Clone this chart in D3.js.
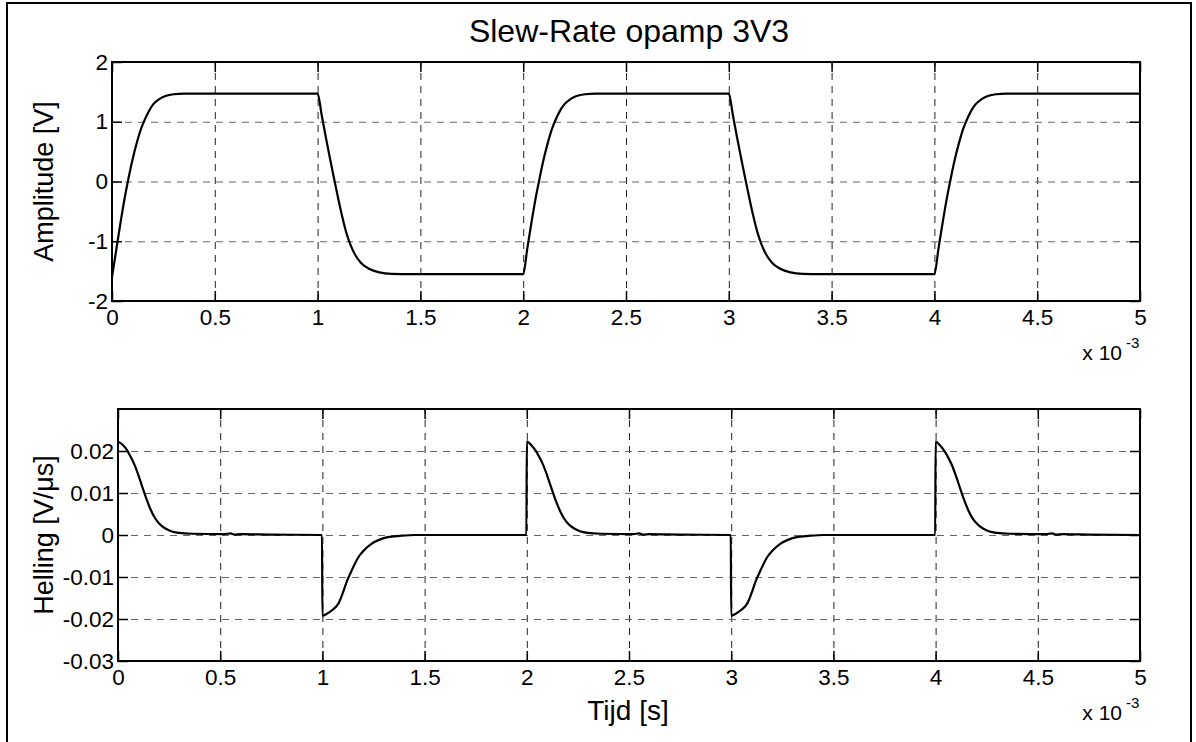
<!DOCTYPE html>
<html lang="nl">
<head>
<meta charset="UTF-8">
<title>Slew-Rate opamp 3V3</title>
<script src="https://d3js.org/d3.v7.min.js"></script>
<style>
  body { margin: 0; background: #fff; }
  svg { display: block; font-family: "Liberation Sans", Arial, Helvetica, sans-serif; }
  .grid path { display: none; }
  .grid line { stroke-dasharray: 7,6; stroke-width: 1; }
  .gridx line { stroke: #222; }
  .gridy line { stroke: #666; }
  .ax path { display: none; }
  .ax line { stroke: #000; stroke-width: 1.5; }
  .ax text { font-size: 22.5px; fill: #000; }
</style>
</head>
<body>
<div id="chart"></div>
<script>
// time axis is in units of 1e-3 s (MATLAB "x 10^-3" multiplier)
var timeTicks = [0, 0.5, 1, 1.5, 2, 2.5, 3, 3.5, 4, 4.5, 5];
var ampTicks = [-2, -1, 0, 1, 2];
var slopeTicks = [-0.03, -0.02, -0.01, 0, 0.01, 0.02];

// upper plot: amplitude [V] as [t, V]
var amplitude = [
    [0.00, -1.60], [0.02, -1.16], [0.04, -0.72], [0.06, -0.31], [0.08, 0.05], [0.10, 0.37],
    [0.12, 0.64], [0.14, 0.87], [0.16, 1.04], [0.18, 1.18], [0.20, 1.29], [0.23, 1.38],
    [0.26, 1.43], [0.30, 1.46], [0.35, 1.47],
    [1.00, 1.47], [1.02, 1.11], [1.04, 0.74], [1.06, 0.39], [1.08, 0.05], [1.10, -0.28],
    [1.12, -0.59], [1.14, -0.86], [1.16, -1.06], [1.18, -1.21], [1.21, -1.36], [1.25, -1.46],
    [1.30, -1.52], [1.36, -1.545], [1.45, -1.55],
    [2.00, -1.55], [2.02, -1.12], [2.04, -0.69], [2.06, -0.29], [2.08, 0.06], [2.10, 0.38],
    [2.12, 0.65], [2.14, 0.88], [2.16, 1.05], [2.18, 1.19], [2.20, 1.29], [2.23, 1.38],
    [2.26, 1.43], [2.30, 1.46], [2.35, 1.47],
    [3.00, 1.47], [3.02, 1.11], [3.04, 0.74], [3.06, 0.39], [3.08, 0.05], [3.10, -0.28],
    [3.12, -0.59], [3.14, -0.86], [3.16, -1.06], [3.18, -1.21], [3.21, -1.36], [3.25, -1.46],
    [3.30, -1.52], [3.36, -1.545], [3.45, -1.55],
    [4.00, -1.55], [4.02, -1.12], [4.04, -0.69], [4.06, -0.29], [4.08, 0.06], [4.10, 0.38],
    [4.12, 0.65], [4.14, 0.88], [4.16, 1.05], [4.18, 1.19], [4.20, 1.29], [4.23, 1.38],
    [4.26, 1.43], [4.30, 1.46], [4.35, 1.47],
    [5.00, 1.47]
];

// lower plot: slope [V/us] as [t, dV/dt]
var slope = [
    [0.00, 0.0223], [0.02, 0.0216], [0.04, 0.0205], [0.06, 0.0188], [0.08, 0.0168], [0.10, 0.0142],
    [0.12, 0.0113], [0.14, 0.0085], [0.16, 0.0060], [0.18, 0.0041], [0.20, 0.0028], [0.23, 0.0016],
    [0.26, 0.0009], [0.30, 0.0005], [0.36, 0.0003], [0.52, 0.0002], [0.55, 0.0004], [0.57, 0.0001],
    [0.60, 0.0002], [0.75, 0.0001], [0.998, 0.0000],
    [1.000, -0.0192], [1.02, -0.0188], [1.05, -0.0178], [1.08, -0.0162], [1.10, -0.0138], [1.12, -0.0110],
    [1.14, -0.0088], [1.16, -0.0067], [1.18, -0.0050], [1.20, -0.0038], [1.24, -0.0021], [1.28, -0.0011],
    [1.32, -0.0005], [1.38, -0.0002], [1.45, 0.0000], [1.998, 0.0000],
    [2.000, 0.0223], [2.02, 0.0215], [2.04, 0.0203], [2.06, 0.0187], [2.08, 0.0167], [2.10, 0.0141],
    [2.12, 0.0112], [2.14, 0.0084], [2.16, 0.0060], [2.18, 0.0041], [2.20, 0.0028], [2.23, 0.0016],
    [2.26, 0.0009], [2.30, 0.0005], [2.36, 0.0003], [2.52, 0.0002], [2.55, 0.0004], [2.57, 0.0001],
    [2.60, 0.0002], [2.75, 0.0001], [2.998, 0.0000],
    [3.000, -0.0192], [3.02, -0.0188], [3.05, -0.0178], [3.08, -0.0162], [3.10, -0.0138], [3.12, -0.0110],
    [3.14, -0.0088], [3.16, -0.0067], [3.18, -0.0050], [3.20, -0.0038], [3.24, -0.0021], [3.28, -0.0011],
    [3.32, -0.0005], [3.38, -0.0002], [3.45, 0.0000], [3.998, 0.0000],
    [4.000, 0.0223], [4.02, 0.0214], [4.04, 0.0202], [4.06, 0.0186], [4.08, 0.0166], [4.10, 0.0140],
    [4.12, 0.0111], [4.14, 0.0083], [4.16, 0.0059], [4.18, 0.0040], [4.20, 0.0028], [4.23, 0.0016],
    [4.26, 0.0009], [4.30, 0.0005], [4.36, 0.0003], [4.54, 0.0002], [4.57, 0.0004], [4.59, 0.0001],
    [4.62, 0.0002], [4.75, 0.0001], [5.00, 0.0000]
];

var width = 1196, height = 742;

var svg = d3.select("#chart").append("svg")
    .attr("width", width)
    .attr("height", height);

svg.append("rect").attr("width", width).attr("height", height).attr("fill", "#fff");

// figure frame (bottom edge falls outside the picture)
svg.append("rect")
    .attr("x", 7).attr("y", 3)
    .attr("width", 1184).attr("height", 760)
    .attr("fill", "none").attr("stroke", "#000").attr("stroke-width", 2);

function drawPanel(p) {
    var x = d3.scaleLinear().domain([0, 5]).range([p.left, p.right]);
    var y = d3.scaleLinear().domain(p.yDomain).range([p.bottom, p.top]);
    var h = p.bottom - p.top, w = p.right - p.left;

    // grid
    svg.append("g").attr("class", "grid gridx")
        .attr("transform", "translate(0," + p.bottom + ")")
        .call(d3.axisBottom(x).tickValues(timeTicks.slice(1, -1)).tickSize(-h).tickFormat(""));
    svg.append("g").attr("class", "grid gridy")
        .attr("transform", "translate(" + p.left + ",0)")
        .call(d3.axisLeft(y).tickValues(p.yTicks.filter(function(d) { return y(d) > p.top + 1 && y(d) < p.bottom - 1; }))
            .tickSize(-w).tickFormat(""));

    // data
    var line = d3.line()
        .x(function(d) { return x(d[0]); })
        .y(function(d) { return y(d[1]); })
        .curve(d3.curveMonotoneX);
    svg.append("path")
        .datum(p.data)
        .attr("d", line)
        .attr("fill", "none")
        .attr("stroke", "#000")
        .attr("stroke-width", 2.2)
        .attr("stroke-linejoin", "round");

    // axes, ticks pointing inward on all four sides
    svg.append("g").attr("class", "ax")
        .attr("transform", "translate(0," + p.bottom + ")")
        .call(d3.axisBottom(x).tickValues(timeTicks).tickSize(-10).tickPadding(8)
            .tickFormat(function(d) { return String(d); }));
    svg.append("g").attr("class", "ax")
        .attr("transform", "translate(0," + p.top + ")")
        .call(d3.axisTop(x).tickValues(timeTicks).tickSize(-10).tickFormat(""));
    svg.append("g").attr("class", "ax")
        .attr("transform", "translate(" + p.left + ",0)")
        .call(d3.axisLeft(y).tickValues(p.yTicks).tickSize(-10).tickPadding(4)
            .tickFormat(function(d) { return String(d); }));
    svg.append("g").attr("class", "ax")
        .attr("transform", "translate(" + p.right + ",0)")
        .call(d3.axisRight(y).tickValues(p.yTicks).tickSize(-10).tickFormat(""));

    svg.append("rect")
        .attr("x", p.left).attr("y", p.top)
        .attr("width", w).attr("height", h)
        .attr("fill", "none").attr("stroke", "#000").attr("stroke-width", 2);

    // y label
    svg.append("text")
        .attr("transform", "translate(53," + (p.top + h / 2) + ") rotate(-90)")
        .attr("text-anchor", "middle")
        .style("font-size", "27px")
        .text(p.label);

    // x 10^-3 multiplier
    svg.append("text")
        .attr("x", p.right - 18).attr("y", p.bottom + p.multDy)
        .attr("text-anchor", "end")
        .style("font-size", "21px")
        .text("x 10");
    svg.append("text")
        .attr("x", p.right - 14).attr("y", p.bottom + p.multDy - 12)
        .style("font-size", "15px")
        .text("-3");
}

drawPanel({
    left: 112, right: 1140, top: 62, bottom: 301,
    yDomain: [-2, 2], yTicks: ampTicks, data: amplitude,
    label: "Amplitude [V]", multDy: 59
});

drawPanel({
    left: 118, right: 1140, top: 409, bottom: 661,
    yDomain: [-0.03, 0.03], yTicks: slopeTicks, data: slope,
    label: "Helling [V/\u03bcs]", multDy: 59
});

svg.append("text")
    .attr("x", 629).attr("y", 42)
    .attr("text-anchor", "middle")
    .style("font-size", "32px")
    .text("Slew-Rate opamp 3V3");

svg.append("text")
    .attr("x", 628).attr("y", 720)
    .attr("text-anchor", "middle")
    .style("font-size", "28px")
    .text("Tijd [s]");
</script>
</body>
</html>
